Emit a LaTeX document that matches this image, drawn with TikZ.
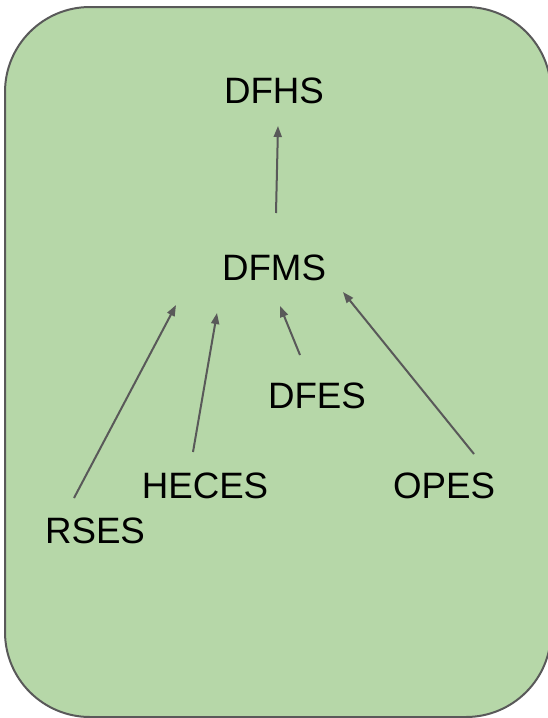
\documentclass[tikz,border=0pt]{standalone}
\usepackage{fontspec}
\setmainfont{Liberation Sans}
\usepackage{tikz}
\usetikzlibrary{arrows.meta, positioning}

\definecolor{panelgreen}{HTML}{B6D7A8}
\definecolor{edgegray}{HTML}{595959}

\begin{document}
\begin{tikzpicture}
        [
        x=1pt, y=-1pt,
        panel/.style={draw=edgegray, fill=panelgreen, line width=2pt, rounded corners=85pt},
        service/.style={inner sep=0pt, font=\fontsize{36.7}{44}\selectfont},
        arrow/.style={-{Triangle[length=11pt, width=8pt]}, draw=edgegray, fill=edgegray, line width=2pt}
        ]

        \useasboundingbox (0,0) rectangle (548,718);
        \clip (0,0) rectangle (548,718);
        \draw[panel] (5,7) rectangle (551,717);

        \node[service] (dfhs) at (274,91) {DFHS};
        \node[service] (dfms) at (274,268) {DFMS};
        \node[service] (dfes) at (317,396) {DFES};
        \node[service] (heces) at (205,486) {HECES};
        \node[service] (opes) at (444,486) {OPES};
        \node[service] (rses) at (95,531) {RSES};

        % arrow ends
        \coordinate (dfms-out) at (276,213);
        \coordinate (dfhs-in) at (278,126);
        \coordinate (rses-out) at (74,498);
        \coordinate (dfms-in1) at (176,305);
        \coordinate (heces-out) at (193,452);
        \coordinate (dfms-in2) at (217,313);
        \coordinate (dfes-out) at (300,355);
        \coordinate (dfms-in3) at (280,306);
        \coordinate (opes-out) at (474,454);
        \coordinate (dfms-in4) at (343,292);

        \draw[arrow] (dfms-out) -- (dfhs-in);
        \draw[arrow] (rses-out) -- (dfms-in1);
        \draw[arrow] (heces-out) -- (dfms-in2);
        \draw[arrow] (dfes-out) -- (dfms-in3);
        \draw[arrow] (opes-out) -- (dfms-in4);

    \end{tikzpicture}
\end{document}
